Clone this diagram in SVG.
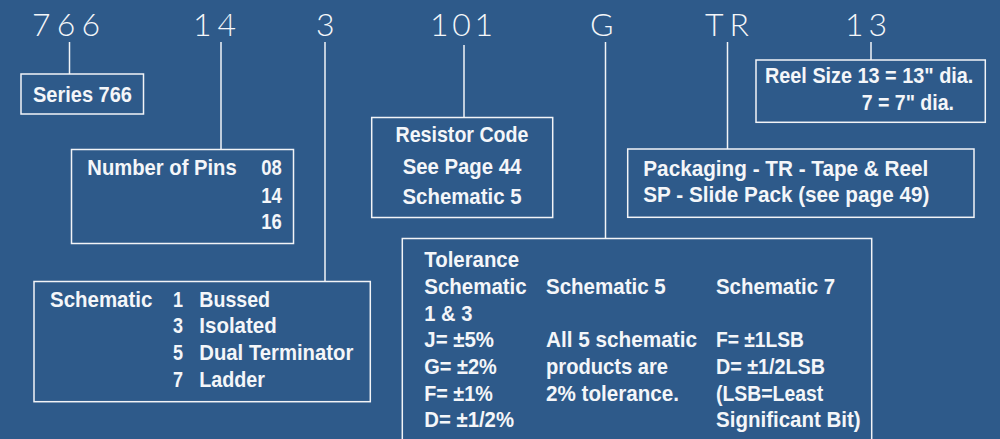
<svg xmlns="http://www.w3.org/2000/svg" width="1000" height="439" viewBox="0 0 1000 439">
<style>
.bg{fill:#2E5A8A}
.box{fill:none;stroke:#F2F4F7;stroke-width:1.5}
.con{stroke:#F2F4F7;stroke-width:1.5;fill:none}
.code{font-family:Lato,"Open Sans","Liberation Sans",sans-serif;font-weight:300;font-size:32px;fill:#F4F6F9}
.t{font-family:"Liberation Sans",Arial,sans-serif;font-weight:bold;font-size:22.5px;fill:#F4F6F9}
.m{text-anchor:middle}
.e{text-anchor:end}
</style>
<rect class="bg" x="0" y="0" width="1000" height="439"/>
<g id="codes">
<text class="code" x="32" y="36" textLength="68">766</text>
<text class="code" x="193" y="36" textLength="43">14</text>
<text class="code" x="316" y="36">3</text>
<text class="code" x="430" y="36" textLength="63">101</text>
<text class="code" x="590" y="36">G</text>
<text class="code" x="705" y="36" textLength="44">TR</text>
<text class="code" x="845" y="36" textLength="42">13</text>
</g>
<g id="connectors">
<line class="con" x1="69.5" y1="42" x2="69.5" y2="74"/>
<line class="con" x1="221" y1="42" x2="221" y2="149.5"/>
<line class="con" x1="325" y1="42" x2="325" y2="281.5"/>
<line class="con" x1="464" y1="45" x2="464" y2="117.5"/>
<line class="con" x1="605.5" y1="42" x2="605.5" y2="238.5"/>
<line class="con" x1="727.5" y1="42" x2="727.5" y2="149"/>
<line class="con" x1="871" y1="42" x2="871" y2="60"/>
</g>
<g id="series">
<rect class="box" x="21" y="74" width="122.5" height="40"/>
<text class="t" x="33" y="102" textLength="99" lengthAdjust="spacingAndGlyphs">Series 766</text>
</g>
<g id="pins">
<rect class="box" x="71.5" y="149.5" width="222" height="94"/>
<text class="t" x="87.3" y="175" textLength="149.4" lengthAdjust="spacingAndGlyphs">Number of Pins</text>
<text class="t e" x="281.7" y="175" textLength="20.5" lengthAdjust="spacingAndGlyphs">08</text>
<text class="t e" x="281.7" y="202.7" textLength="20.5" lengthAdjust="spacingAndGlyphs">14</text>
<text class="t e" x="281.7" y="229" textLength="20.5" lengthAdjust="spacingAndGlyphs">16</text>
</g>
<g id="schematic">
<rect class="box" x="34" y="281.5" width="336.3" height="120.2"/>
<text class="t" x="50" y="307.3" textLength="102.3" lengthAdjust="spacingAndGlyphs">Schematic</text>
<text class="t" x="173" y="307.3" textLength="10" lengthAdjust="spacingAndGlyphs">1</text>
<text class="t" x="199.3" y="307.3" textLength="70.7" lengthAdjust="spacingAndGlyphs">Bussed</text>
<text class="t" x="173" y="333.3" textLength="10" lengthAdjust="spacingAndGlyphs">3</text>
<text class="t" x="199.3" y="333.3" textLength="77.4" lengthAdjust="spacingAndGlyphs">Isolated</text>
<text class="t" x="173" y="360" textLength="10" lengthAdjust="spacingAndGlyphs">5</text>
<text class="t" x="199.3" y="360" textLength="154" lengthAdjust="spacingAndGlyphs">Dual Terminator</text>
<text class="t" x="173" y="386.7" textLength="10" lengthAdjust="spacingAndGlyphs">7</text>
<text class="t" x="199.3" y="386.7" textLength="65.7" lengthAdjust="spacingAndGlyphs">Ladder</text>
</g>
<g id="resistor">
<rect class="box" x="371.7" y="117.5" width="181" height="100"/>
<text class="t m" x="462" y="141.7" textLength="133" lengthAdjust="spacingAndGlyphs">Resistor Code</text>
<text class="t m" x="462" y="174" textLength="118.7" lengthAdjust="spacingAndGlyphs">See Page 44</text>
<text class="t m" x="462" y="204.3" textLength="119" lengthAdjust="spacingAndGlyphs">Schematic 5</text>
</g>
<g id="tolerance">
<rect class="box" x="402.3" y="238.5" width="469.4" height="210"/>
<text class="t" x="424.3" y="267.3" textLength="94.7" lengthAdjust="spacingAndGlyphs">Tolerance</text>
<text class="t" x="424.3" y="294" textLength="102.4" lengthAdjust="spacingAndGlyphs">Schematic</text>
<text class="t" x="424.3" y="320.7" textLength="48" lengthAdjust="spacingAndGlyphs">1 &amp; 3</text>
<text class="t" x="424.3" y="347.3" textLength="69.7" lengthAdjust="spacingAndGlyphs">J= ±5%</text>
<text class="t" x="424.3" y="374" textLength="72.4" lengthAdjust="spacingAndGlyphs">G= ±2%</text>
<text class="t" x="424.3" y="400.7" textLength="68.4" lengthAdjust="spacingAndGlyphs">F= ±1%</text>
<text class="t" x="424.3" y="426.7" textLength="89.7" lengthAdjust="spacingAndGlyphs">D= ±1/2%</text>
<text class="t" x="546" y="294" textLength="119.7" lengthAdjust="spacingAndGlyphs">Schematic 5</text>
<text class="t" x="546" y="347.3" textLength="151" lengthAdjust="spacingAndGlyphs">All 5 schematic</text>
<text class="t" x="546" y="374" textLength="122" lengthAdjust="spacingAndGlyphs">products are</text>
<text class="t" x="546" y="400.7" textLength="133" lengthAdjust="spacingAndGlyphs">2% tolerance.</text>
<text class="t" x="716" y="294" textLength="119" lengthAdjust="spacingAndGlyphs">Schematic 7</text>
<text class="t" x="716" y="347.3" textLength="88" lengthAdjust="spacingAndGlyphs">F= ±1LSB</text>
<text class="t" x="716" y="374" textLength="109" lengthAdjust="spacingAndGlyphs">D= ±1/2LSB</text>
<text class="t" x="716" y="400.7" textLength="107.3" lengthAdjust="spacingAndGlyphs">(LSB=Least</text>
<text class="t" x="716" y="426.7" textLength="144.7" lengthAdjust="spacingAndGlyphs">Significant Bit)</text>
</g>
<g id="packaging">
<rect class="box" x="627.7" y="149" width="346.3" height="68.3"/>
<text class="t" x="643.3" y="176" textLength="285" lengthAdjust="spacingAndGlyphs">Packaging - TR - Tape &amp; Reel</text>
<text class="t" x="643.3" y="201.7" textLength="286" lengthAdjust="spacingAndGlyphs">SP - Slide Pack (see page 49)</text>
</g>
<g id="reel">
<rect class="box" x="756" y="60" width="229.3" height="62.3"/>
<text class="t" x="765" y="83.3" textLength="208.3" lengthAdjust="spacingAndGlyphs">Reel Size 13 = 13" dia.</text>
<text class="t" x="861.7" y="110" textLength="92.3" lengthAdjust="spacingAndGlyphs">7 = 7" dia.</text>
</g>
</svg>
